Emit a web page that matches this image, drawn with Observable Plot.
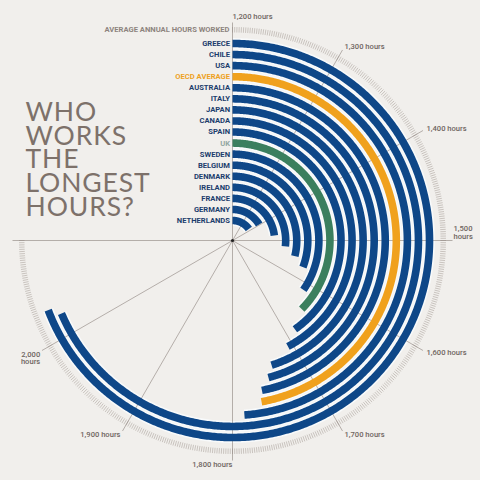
<!DOCTYPE html>
<html><head><meta charset="utf-8">
<script src="https://cdn.jsdelivr.net/npm/d3@7"></script>
<script src="https://cdn.jsdelivr.net/npm/@observablehq/plot@0.6"></script>
<style>
html,body{margin:0;padding:0;background:#f1efec;}
#chart{width:480px;height:480px;}
</style></head><body><div id="chart"></div>
<script>
// ---- data ----
const countries = ["Greece","Chile","USA","OECD average","Australia","Italy","Japan","Canada","Spain","UK","Sweden","Belgium","Denmark","Ireland","France","Germany","Netherlands"];
const hours = [2031,2023,1787,1766,1763,1751,1742,1708,1683,1649,1616,1569,1547,1521,1477,1397,1382];
const group = ["country","country","country","oecd","country","country","country","country","country","uk","country","country","country","country","country","country","country"];
const tickHours = [1200,1300,1400,1500,1600,1700,1800,1900,2000];
const tickLabels = ["1,200 hours","1,300 hours","1,400 hours","1,500\nhours","1,600 hours","1,700 hours","1,800 hours","1,900 hours","2,000\nhours"];
const axisTitle = "AVERAGE ANNUAL HOURS WORKED";
const titleLines = ["WHO","WORKS","THE","LONGEST","HOURS?"];

// ---- styles ----
const barColor = {country:"#0e4788", oecd:"#f0a11d", uk:"#3b7f5e"};
const labelColor = {country:"#1c3d6c", oecd:"#eea21f", uk:"#93a7a2"};
const GREY = "#8c827c";

// ---- scales ----
const angle = d3.scaleLinear().domain([1200, 2100]).range([0, 1.5 * Math.PI]);
const radius = d3.scalePoint().domain(countries).range([197, 20]);
const px = (r, a) => r * Math.sin(a);
const py = (r, a) => r * Math.cos(a);

const rows = countries.map((c, i) => ({country: c, hours: hours[i], group: group[i]}));
const arcPts = [];
for (const d of rows) {
  const a1 = angle(d.hours), r = radius(d.country);
  const n = Math.max(2, Math.ceil(a1 / (Math.PI / 360)));
  for (let k = 0; k <= n; k++) {
    const a = a1 * k / n;
    arcPts.push({country: d.country, group: d.group, x: px(r, a), y: py(r, a)});
  }
}
const ringTicks = d3.range(1200, 2100.001, 2);
const spokes = d3.range(1200, 2100.001, 100);
const labelRows = tickHours.map((h, i) => ({h, label: tickLabels[i]}));

function labelPos(d) {
  const a = angle(d.h);
  const multi = d.label.includes("\n");
  const r = multi ? (Math.sin(a) > 0 ? 221 : 222) : 224;
  return {
    x: px(r, a), y: py(r, a) + (multi && Math.sin(a) > 0 ? 2 : 0),
    anchor: a < Math.PI - 0.01 ? "start" : "end",
    line: multi ? (Math.sin(a) > 0 ? "bottom" : "top") : "middle"
  };
}
const labelTexts = labelRows.map(d => ({...d, ...labelPos(d)}));
const labelGroups = d3.groups(labelTexts, d => d.anchor + "|" + d.line);

const plot = Plot.plot({
  width: 480, height: 480,
  margin: 0,
  x: {domain: [-232, 248], axis: null},
  y: {domain: [-240, 240], axis: null},
  color: {type: "identity"},
  style: {background: "#f1efec", fontFamily: "Roboto, 'Open Sans', sans-serif"},
  marks: [
    // dense tick ring
    Plot.link(ringTicks, {
      x1: d => px(208, angle(d)), y1: d => py(208, angle(d)),
      x2: d => px(213.5, angle(d)), y2: d => py(213.5, angle(d)),
      stroke: "#b8b0aa", strokeWidth: 0.7
    }),
    // bar halos
    Plot.line(arcPts, {x: "x", y: "y", z: "country", stroke: "#f8fafb", strokeWidth: 10.8, strokeLinecap: "butt", curve: "linear"}),
    // spokes
    Plot.link(spokes, {
      x1: () => 0, y1: () => 0,
      x2: d => px(d === 1200 ? 218 : 220, angle(d)), y2: d => py(d === 1200 ? 218 : 220, angle(d)),
      stroke: GREY, strokeWidth: 0.6
    }),
    // bars
    Plot.line(arcPts, {x: "x", y: "y", z: "country", stroke: d => barColor[d.group], strokeWidth: 7.6, strokeLinecap: "butt", curve: "linear"}),
    // centre dot
    Plot.dot([0], {x: () => 0, y: () => 0, r: 1.6, fill: "#222"}),
    // country labels
    Plot.text(rows, {
      x: () => 0, y: d => radius(d.country), text: d => d.country.toUpperCase(),
      textAnchor: "end", dx: -2.5, fill: d => labelColor[d.group],
      fontSize: 7.6, fontWeight: 700
    }),
    // axis title
    Plot.text([axisTitle], {
      x: () => 0, y: () => 210.5, text: d => d, textAnchor: "end", dx: -3,
      fill: "#8d847e", fontSize: 7.6, fontWeight: 700
    }),
    // tick labels
    ...labelGroups.map(([key, data]) => {
      const [anchor, line] = key.split("|");
      return Plot.text(data, {
        x: "x", y: "y", text: "label", textAnchor: anchor, lineAnchor: line,
        fill: "#6f655f", fontSize: 7.6, fontWeight: 500, lineHeight: 1.0
      });
    }),
    // title
    Plot.text([titleLines.join("\n")], {
      frameAnchor: "top-left", dx: 25, dy: 103, lineAnchor: "top",
      textAnchor: "start", fontSize: 26.5, lineHeight: 0.905, fontWeight: 400,
      fontFamily: "Lato, 'Open Sans', sans-serif", fill: "#7d716a"
    })
  ]
});
document.getElementById("chart").appendChild(plot);
// widen title tracking slightly to match the reference lettering
plot.querySelectorAll("text").forEach(t => {
  if (t.textContent.startsWith("WHO")) t.style.letterSpacing = "0.9px";
});
</script>
</body></html>
